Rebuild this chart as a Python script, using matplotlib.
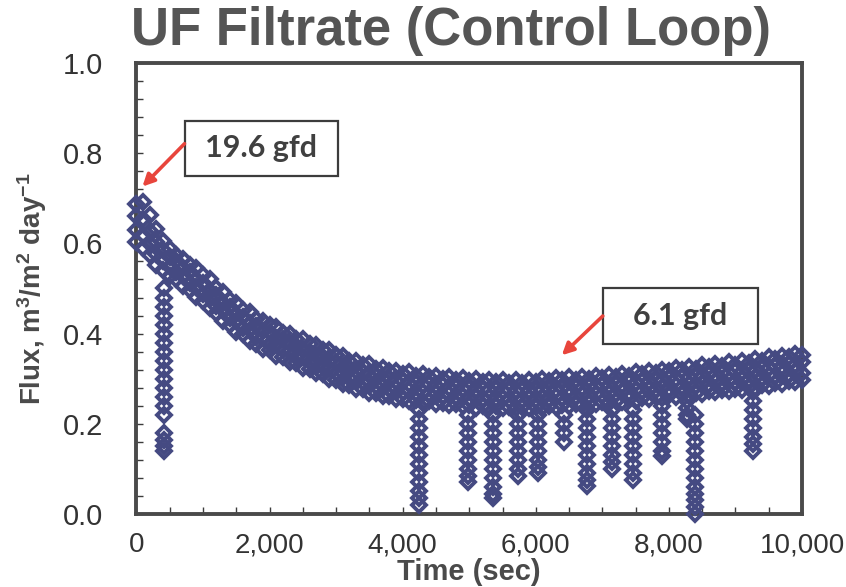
import numpy as np
import matplotlib
matplotlib.use('Agg')
import matplotlib.pyplot as plt
from matplotlib.patches import Rectangle
from matplotlib.ticker import MultipleLocator, FuncFormatter

plt.rcParams['font.family'] = ['Liberation Sans', 'DejaVu Sans']
plt.rcParams['mathtext.fontset'] = 'custom'
plt.rcParams['mathtext.rm'] = 'Liberation Sans:bold'
plt.rcParams['mathtext.default'] = 'rm'

# sample times (s), one reading per 100 s for each of four stacked readings
time_s = np.arange(0, 10001, 100)

flux_hi2 = [0.688, 0.692, 0.662, 0.632, 0.606, 0.588, 0.575, 0.566, 0.552, 0.545,
            0.530, 0.520, 0.500, 0.493, 0.474, 0.468, 0.452, 0.447, 0.432, 0.429,
            0.418, 0.414, 0.402, 0.400, 0.388, 0.388, 0.376, 0.375, 0.364, 0.363,
            0.352, 0.351, 0.340, 0.340, 0.331, 0.332, 0.322, 0.324, 0.316, 0.318,
            0.310, 0.314, 0.306, 0.310, 0.303, 0.307, 0.300, 0.304, 0.297, 0.301,
            0.294, 0.299, 0.293, 0.298, 0.292, 0.297, 0.291, 0.297, 0.291, 0.298,
            0.292, 0.299, 0.294, 0.301, 0.296, 0.303, 0.297, 0.304, 0.299, 0.306,
            0.301, 0.308, 0.304, 0.311, 0.307, 0.314, 0.310, 0.317, 0.313, 0.320,
            0.316, 0.324, 0.319, 0.327, 0.322, 0.330, 0.325, 0.333, 0.328, 0.336,
            0.331, 0.339, 0.335, 0.343, 0.339, 0.347, 0.343, 0.351, 0.347, 0.354, 0.352]

flux_hi1 = [0.660, 0.655, 0.628, 0.603, 0.585, 0.570, 0.560, 0.545, 0.536, 0.521,
            0.512, 0.495, 0.485, 0.468, 0.458, 0.443, 0.437, 0.423, 0.416, 0.405,
            0.401, 0.390, 0.387, 0.376, 0.372, 0.363, 0.360, 0.351, 0.348, 0.339,
            0.336, 0.327, 0.324, 0.316, 0.315, 0.308, 0.307, 0.300, 0.300, 0.294,
            0.294, 0.289, 0.291, 0.286, 0.288, 0.283, 0.285, 0.280, 0.282, 0.277,
            0.279, 0.275, 0.278, 0.274, 0.277, 0.273, 0.276, 0.273, 0.276, 0.273,
            0.276, 0.274, 0.278, 0.276, 0.280, 0.278, 0.282, 0.280, 0.284, 0.282,
            0.286, 0.284, 0.289, 0.287, 0.292, 0.290, 0.295, 0.293, 0.298, 0.296,
            0.301, 0.300, 0.304, 0.303, 0.307, 0.306, 0.310, 0.309, 0.313, 0.312,
            0.316, 0.315, 0.320, 0.319, 0.324, 0.323, 0.328, 0.327, 0.332, 0.331, 0.336]

flux_lo1 = [0.630, 0.618, 0.598, 0.577, 0.562, 0.548, 0.536, 0.528, 0.512, 0.504,
            0.488, 0.480, 0.461, 0.453, 0.435, 0.428, 0.413, 0.408, 0.393, 0.390,
            0.378, 0.375, 0.363, 0.361, 0.349, 0.348, 0.337, 0.336, 0.325, 0.324,
            0.313, 0.312, 0.301, 0.301, 0.292, 0.293, 0.284, 0.285, 0.277, 0.279,
            0.271, 0.274, 0.268, 0.271, 0.265, 0.268, 0.262, 0.265, 0.259, 0.262,
            0.256, 0.260, 0.255, 0.259, 0.254, 0.258, 0.253, 0.258, 0.253, 0.258,
            0.253, 0.259, 0.255, 0.261, 0.257, 0.263, 0.259, 0.265, 0.261, 0.267,
            0.263, 0.269, 0.266, 0.272, 0.269, 0.275, 0.272, 0.278, 0.275, 0.281,
            0.278, 0.285, 0.281, 0.288, 0.284, 0.291, 0.287, 0.294, 0.290, 0.297,
            0.293, 0.300, 0.297, 0.304, 0.301, 0.308, 0.305, 0.312, 0.309, 0.316, 0.313]

flux_lo2 = [0.602, 0.590, 0.575, 0.552, 0.540, 0.528, 0.521, 0.505, 0.497, 0.481,
            0.473, 0.456, 0.446, 0.429, 0.420, 0.404, 0.398, 0.384, 0.378, 0.366,
            0.363, 0.351, 0.348, 0.337, 0.334, 0.324, 0.322, 0.312, 0.310, 0.300,
            0.298, 0.288, 0.286, 0.277, 0.277, 0.269, 0.269, 0.261, 0.262, 0.255,
            0.256, 0.250, 0.253, 0.247, 0.250, 0.244, 0.247, 0.241, 0.244, 0.239,
            0.241, 0.236, 0.240, 0.235, 0.239, 0.234, 0.238, 0.234, 0.238, 0.234,
            0.238, 0.235, 0.240, 0.237, 0.242, 0.239, 0.244, 0.241, 0.246, 0.243,
            0.248, 0.245, 0.251, 0.248, 0.254, 0.251, 0.257, 0.254, 0.260, 0.257,
            0.263, 0.260, 0.266, 0.264, 0.269, 0.267, 0.272, 0.270, 0.275, 0.273,
            0.278, 0.276, 0.282, 0.280, 0.286, 0.284, 0.290, 0.288, 0.294, 0.292, 0.298]

# readings taken during the flux drops
dip_times = [420, 4250, 4980, 5350, 5730, 6030, 6430,
             6770, 7140, 7460, 7890, 8270, 8390, 9260]
dip_flux = [
    [0.50, 0.48, 0.46, 0.44, 0.42, 0.40, 0.38, 0.36, 0.34, 0.32, 0.30,
     0.28, 0.26, 0.24, 0.22, 0.18, 0.165, 0.15, 0.14],
    [0.23, 0.21, 0.19, 0.17, 0.15, 0.13, 0.11, 0.09, 0.07, 0.05, 0.035, 0.02],
    [0.22, 0.20, 0.18, 0.16, 0.14, 0.12, 0.10, 0.085, 0.07],
    [0.22, 0.20, 0.18, 0.16, 0.14, 0.12, 0.10, 0.08, 0.06, 0.045, 0.035],
    [0.22, 0.20, 0.18, 0.16, 0.14, 0.12, 0.10, 0.085],
    [0.22, 0.20, 0.18, 0.16, 0.14, 0.12, 0.105, 0.09],
    [0.22, 0.20, 0.18, 0.16],
    [0.23, 0.21, 0.19, 0.17, 0.15, 0.13, 0.11, 0.09, 0.075, 0.062],
    [0.23, 0.21, 0.19, 0.17, 0.15, 0.13, 0.115, 0.10],
    [0.23, 0.21, 0.19, 0.17, 0.15, 0.13, 0.11, 0.09, 0.075],
    [0.24, 0.22, 0.20, 0.18, 0.16, 0.14, 0.128],
    [0.25, 0.235, 0.22, 0.21],
    [0.22, 0.20, 0.18, 0.16, 0.14, 0.12, 0.10, 0.08, 0.06, 0.045, 0.03, 0.015, 0.0],
    [0.27, 0.25, 0.23, 0.21, 0.19, 0.17, 0.155, 0.14],
]

x_ticks = [0, 2000, 4000, 6000, 8000, 10000]
y_ticks = [0.0, 0.2, 0.4, 0.6, 0.8, 1.0]

# (label, arrow tip, box lower-left, box upper-right)
callouts = [
    ('19.6 gfd', (90, 0.726), (722, 0.750), (3023, 0.872)),
    ('6.1 gfd', (6391, 0.352), (7007, 0.378), (9338, 0.500)),
]

MARKER = '#454a82'
INK = '#3c3c3c'
ARROW = '#e8453c'

fig = plt.figure(figsize=(8.46, 5.87), dpi=100, facecolor='white')
ax = fig.add_axes([0.1613, 0.1244, 0.9480 - 0.1613, 0.8927 - 0.1244])

# open diamonds, so overlapping readings merge into a solid band
xs = np.concatenate([time_s] * 4 + [np.full(len(v), t) for t, v in zip(dip_times, dip_flux)])
ys = np.concatenate([flux_hi2, flux_hi1, flux_lo1, flux_lo2] + [np.asarray(v) for v in dip_flux])
ax.plot(xs, ys, linestyle='none', marker='D', markersize=7.0,
        markerfacecolor='none', markeredgecolor=MARKER, markeredgewidth=2.8,
        zorder=3, clip_on=False)

ax.set_xlim(0, 10000)
ax.set_ylim(0, 1.0)
ax.set_xticks(x_ticks)
ax.set_yticks(y_ticks)
ax.xaxis.set_minor_locator(MultipleLocator(500))
ax.yaxis.set_minor_locator(MultipleLocator(0.04))
ax.xaxis.set_major_formatter(FuncFormatter(lambda v, p: f'{int(v):,}'))
ax.yaxis.set_major_formatter(FuncFormatter(lambda v, p: f'{v:.1f}'))
ax.tick_params(which='both', direction='in', top=False, right=False,
               length=5, width=1, color=INK)
ax.tick_params(axis='y', which='major', pad=24, labelsize=21, labelcolor='#333333')
ax.tick_params(axis='x', which='major', pad=13, labelsize=20, labelcolor='#333333')
for s in ax.spines.values():
    s.set_linewidth(2.8)
    s.set_color('#4a4a4a')

ax.set_xlabel('Time (sec)', fontsize=21, fontweight='bold', color='#4a4a4a', labelpad=0)
ax.set_ylabel(r'Flux, m$^3$/m$^2$ day$^{-1}$', fontsize=20, fontweight='bold',
              color='#4a4a4a', labelpad=10)

fig.text(451 / 846, 1 - 31 / 587, 'UF Filtrate (Control Loop)', ha='center', va='center',
         fontsize=38, fontweight='bold', color='#555555')

for label, tip, (x0, y0), (x1, y1) in callouts:
    ax.add_patch(Rectangle((x0, y0), x1 - x0, y1 - y0, facecolor='white',
                           edgecolor=INK, linewidth=1.6, zorder=5))
    ax.text((x0 + x1) / 2, (y0 + y1) / 2, label, ha='center', va='center',
            fontsize=22, fontweight='bold', family=['Lato', 'DejaVu Sans'],
            color='#404040', zorder=6)
    ax.annotate('', xy=tip, xytext=(x0, (y0 + y1) / 2 + (0.010 if tip[0] < 1000 else 0.0)),
                arrowprops=dict(arrowstyle='-|>,head_length=0.7,head_width=0.35',
                                color=ARROW, lw=2.6, shrinkA=0, shrinkB=0),
                zorder=6)

fig.savefig('out.png', dpi=100, facecolor='white')
